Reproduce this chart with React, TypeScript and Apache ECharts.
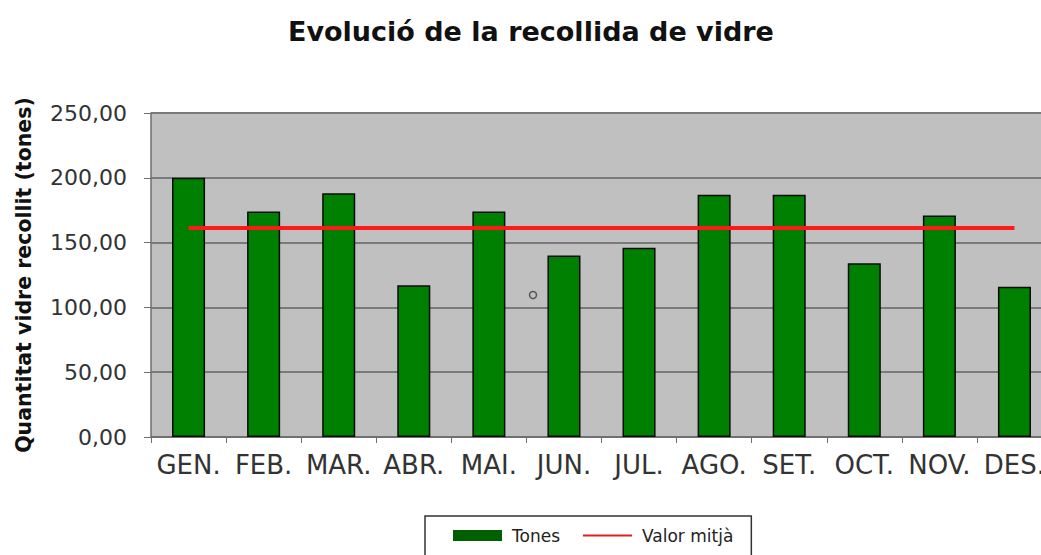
import React, { useEffect, useRef } from "react";
import * as echarts from "echarts";

const months = ["GEN.", "FEB.", "MAR.", "ABR.", "MAI.", "JUN.", "JUL.", "AGO.", "SET.", "OCT.", "NOV.", "DES."];
const tones = [200, 174, 188, 117, 174, 140, 146, 187, 187, 134, 171, 116];
const valorMitja = [161.2, 161.2, 161.2, 161.2, 161.2, 161.2, 161.2, 161.2, 161.2, 161.2, 161.2, 161.2];
const titleText = "Evolució de la recollida de vidre";
const yAxisName = "Quantitat vidre recollit (tones)";

export default function App() {
  const ref = useRef<HTMLDivElement>(null);
  useEffect(() => {
    if (!ref.current) return;
    const chart = echarts.init(ref.current, null, { renderer: "svg" });
    const font = "DejaVu Sans";
    chart.setOption({
      animation: false,
      backgroundColor: "#ffffff",
      title: {
        text: titleText,
        left: 283,
        top: 13,
        textStyle: { fontFamily: font, fontWeight: "bold", fontSize: 27, color: "#111" },
      },
      grid: { left: 151, top: 113, bottom: 118, right: 0, show: true, backgroundColor: "#c0c0c0", borderWidth: 0 },
      legend: {
        left: 425,
        top: 516,
        padding: [11, 18, 30, 28],
        borderColor: "#333",
        borderWidth: 1.5,
        itemGap: 22,
        itemWidth: 49,
        itemHeight: 11,
        textStyle: { fontFamily: font, fontSize: 17, color: "#222", padding: [0, 0, 0, 5] },
        data: [
          { name: "Tones", icon: "rect", itemStyle: { color: "#006000", borderWidth: 0 } },
          { name: "Valor mitjà", itemStyle: { opacity: 0 }, lineStyle: { width: 2, color: "#e02020" } },
        ],
      },
      xAxis: {
        type: "category",
        data: months,
        boundaryGap: true,
        axisLine: { lineStyle: { color: "#6e6e6e", width: 1.5 } },
        axisTick: { show: true, length: 6, lineStyle: { color: "#6e6e6e" } },
        axisLabel: { fontFamily: font, fontSize: 26, color: "#333", margin: 15, interval: 0 },
        splitLine: { show: false },
      },
      yAxis: {
        type: "value",
        min: 0,
        max: 250,
        interval: 50,
        name: yAxisName,
        nameLocation: "middle",
        nameGap: 117,
        nameRotate: 90,
        nameTextStyle: { fontFamily: font, fontWeight: "bold", fontSize: 20.5, color: "#111" },
        axisLine: { show: true, lineStyle: { color: "#6e6e6e", width: 1.5 } },
        axisTick: { show: true, length: 7, lineStyle: { color: "#6e6e6e" } },
        axisLabel: {
          fontFamily: font,
          fontSize: 22,
          color: "#333",
          margin: 24,
          formatter: (v: number) => v.toFixed(2).replace(".", ","),
        },
        splitLine: { show: true, lineStyle: { color: "#7a7a7a", width: 2 } },
      },
      series: [
        {
          name: "Tones",
          type: "bar",
          data: tones,
          barWidth: "44%",
          itemStyle: { color: "#008000", borderColor: "#0a0a0a", borderWidth: 1.5 },
        },
        {
          name: "Valor mitjà",
          type: "line",
          data: valorMitja,
          symbol: "none",
          lineStyle: { color: "#ff1a1a", width: 4 },
          itemStyle: { color: "#ff1a1a" },
        },
      ],
      graphic: [
        { type: "circle", shape: { cx: 533, cy: 295, r: 3.5 }, style: { fill: "none", stroke: "#555", lineWidth: 1.5 } },
      ],
    });
    return () => chart.dispose();
  }, []);
  return (
    <div style={{ position: "fixed", left: 0, top: 0, width: 1041, height: 555, overflow: "hidden" }}>
      <div ref={ref} style={{ width: 1052, height: 555 }} />
    </div>
  );
}
